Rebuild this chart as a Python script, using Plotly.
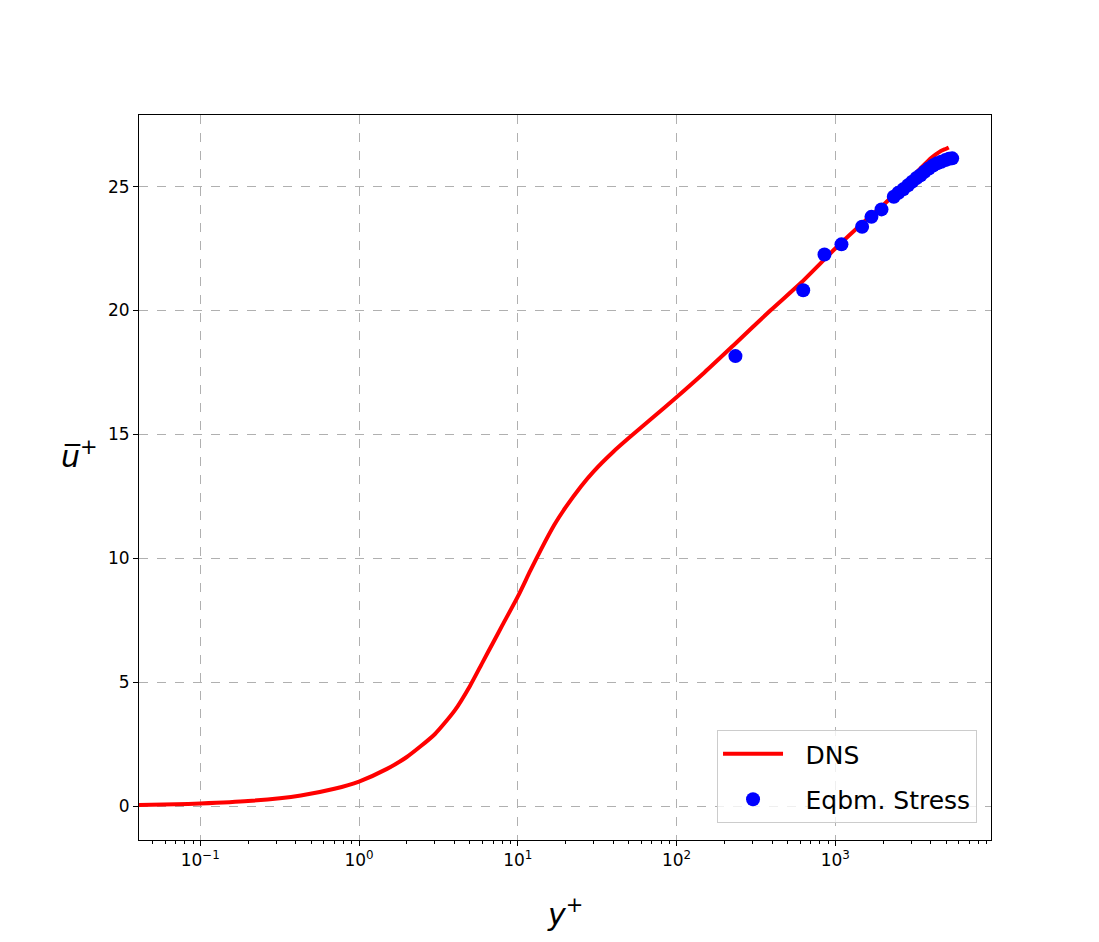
import plotly.graph_objects as go

# DNS mean velocity profile
dns_yplus = [0.04, 0.07, 0.1, 0.2, 0.43, 0.7, 1.0, 1.5, 2.0, 3.0, 4.0, 5.0, 6.0,
             7.0, 8.0, 10, 12, 14, 17, 20, 25, 30, 40, 50, 70, 100, 150, 229,
             390, 604, 1000, 1500, 2000, 2690, 3000, 3440, 4000, 4300, 4600,
             5000, 5186]
dns_uplus = [0.04, 0.07, 0.1, 0.2, 0.43, 0.7, 0.99, 1.5, 1.98, 2.9, 3.85, 4.85,
             5.8, 6.6, 7.3, 8.45, 9.5, 10.35, 11.35, 12.05, 12.9, 13.5, 14.3,
             14.85, 15.65, 16.5, 17.5, 18.6, 20.0, 21.1, 22.5, 23.55, 24.25,
             25.05, 25.35, 25.73, 26.14, 26.3, 26.43, 26.53, 26.58]

# equilibrium stress model points
eq_yplus = [235, 628, 855, 1094, 1476, 1690, 1955, 2337, 2500, 2680, 2870, 3055,
            3250, 3443, 3650, 3884, 4130, 4385, 4650, 4943, 5200, 5450]
eq_uplus = [18.16, 20.82, 22.26, 22.67, 23.38, 23.78, 24.08, 24.59, 24.75, 24.89,
            25.05, 25.2, 25.35, 25.46, 25.6, 25.73, 25.85, 25.94, 26.0, 26.07,
            26.12, 26.14]

x_ticks = [0.1, 1, 10, 100, 1000]
x_ticktext = ["10<sup>\u22121</sup>", "10<sup>0</sup>", "10<sup>1</sup>",
              "10<sup>2</sup>", "10<sup>3</sup>"]
y_ticks = [0, 5, 10, 15, 20, 25]

minor_vals = [m * 10.0 ** e for e in range(-2, 4) for m in range(2, 10)]

# a little padding between legend symbol and label, like the original
pad = "\u2002\u2009"

fig = go.Figure()
fig.add_trace(go.Scatter(x=dns_yplus, y=dns_uplus, mode="lines", name=pad + "DNS",
                         legendgroup="a", line=dict(color="#ff0000", width=4, shape="spline",
                                                    smoothing=0.6)))
fig.add_trace(go.Scatter(x=eq_yplus, y=eq_uplus, mode="markers", name=pad + "Eqbm. Stress",
                         legendgroup="b", marker=dict(color="#0000ff", size=14)))

axis_common = dict(showline=True, linecolor="black", linewidth=1, mirror=True,
                   ticks="outside", ticklen=5, tickcolor="black",
                   showgrid=True, gridcolor="#b0b0b0", griddash="dash", gridwidth=1,
                   zeroline=False, tickfont=dict(family="DejaVu Sans", size=17, color="black"))

fig.update_xaxes(type="log", range=[-1.386, 3.981], tickmode="array",
                 tickvals=x_ticks, ticktext=x_ticktext,
                 minor=dict(ticks="outside", ticklen=3, tickcolor="black",
                            tickmode="array", tickvals=minor_vals, showgrid=False),
                 **axis_common)
fig.update_yaxes(range=[-1.37, 27.89], tickmode="array", tickvals=y_ticks,
                 **axis_common)

fig.update_layout(
    width=1099, height=942,
    margin=dict(l=131, r=116, t=107, b=110),
    plot_bgcolor="white", paper_bgcolor="white",
    font=dict(family="DejaVu Sans", color="black"),
    showlegend=True,
    legend=dict(x=0.9836, y=0.0234, xanchor="right", yanchor="bottom",
                bgcolor="rgba(255,255,255,0.8)", bordercolor="#cccccc", borderwidth=1,
                font=dict(size=25, family="DejaVu Sans"), itemwidth=60,
                tracegroupgap=10),
    annotations=[
        dict(text="<i>y</i><sup>+</sup>", xref="paper", yref="paper", x=0.5, y=0,
             yshift=-72, xanchor="center", yanchor="middle", showarrow=False,
             font=dict(size=30, family="DejaVu Sans")),
        dict(text="<i>u\u0305</i><sup>+</sup>", xref="paper", yref="paper", x=0, y=0.532,
             xshift=-60, xanchor="center", yanchor="middle", showarrow=False,
             font=dict(size=30, family="DejaVu Sans")),
    ],
)

fig.write_html("out.html")
